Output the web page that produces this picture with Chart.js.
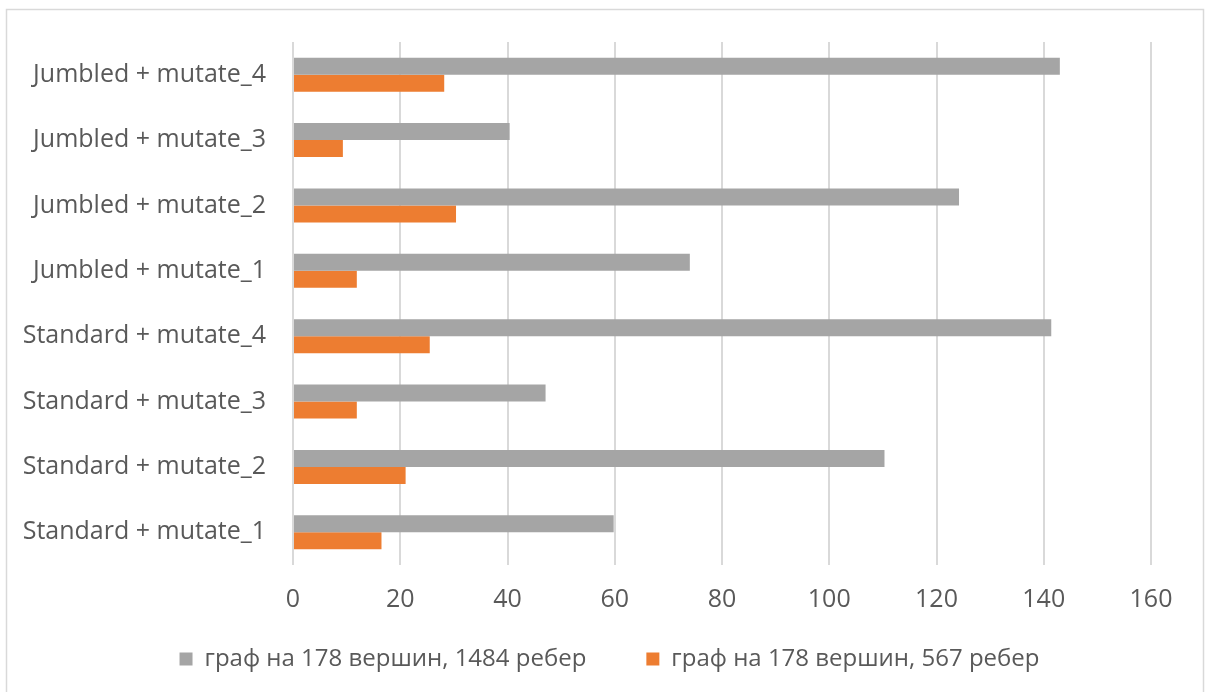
<!DOCTYPE html>
<html>
<head>
<meta charset="utf-8">
<script src="https://cdn.jsdelivr.net/npm/chart.js@4/dist/chart.umd.min.js"></script>
<style>
  html, body { margin: 0; padding: 0; background: #ffffff; }
  #wrap { width: 1205px; height: 692px; position: relative; }
</style>
</head>
<body>
<div id="wrap"><canvas id="chart"></canvas></div>
<script>
// Categories, listed top to bottom as they appear on the axis
const categories = [
  'Jumbled + mutate_4',
  'Jumbled + mutate_3',
  'Jumbled + mutate_2',
  'Jumbled + mutate_1',
  'Standard + mutate_4',
  'Standard + mutate_3',
  'Standard + mutate_2',
  'Standard + mutate_1'
];

// Series values (same order as categories)
const graph1484 = [143.0, 40.4, 124.2, 74.0, 141.4, 47.1, 110.3, 59.8];
const graph567  = [28.2, 9.3, 30.4, 11.9, 25.5, 11.9, 21.0, 16.5];

const seriesNames = [
  'граф на 178 вершин, 1484 ребер',
  'граф на 178 вершин, 567 ребер'
];

// Value axis range and step
const xMin = 0;
const xMax = 160;
const xStep = 20;

const FONT = "'Open Sans', 'Liberation Sans', sans-serif";
const TEXT = '#595959';
const GRID = '#d9d9d9';

// Outer frame around the chart
const framePlugin = {
  id: 'frame',
  beforeDraw(chart) {
    const ctx = chart.ctx;
    ctx.save();
    ctx.fillStyle = '#ffffff';
    ctx.fillRect(0, 0, chart.width, chart.height);
    ctx.strokeStyle = '#d9d9d9';
    ctx.lineWidth = 1.5;
    ctx.strokeRect(6.5, 9.5, chart.width - 8, chart.height + 10);
    ctx.restore();
  }
};

// Moves the legend row up under the axis labels and centres it in the frame
const legendPlacePlugin = {
  id: 'legendPlace',
  afterLayout(chart) {
    const lg = chart.legend;
    if (!lg) return;
    const up = 23, right = 34;
    lg.top -= up; lg.bottom -= up;
    lg.left += right; lg.right += right;
  }
};

new Chart(document.getElementById('chart'), {
  type: 'bar',
  data: {
    labels: categories,
    datasets: [
      {
        label: seriesNames[0],
        data: graph1484,
        backgroundColor: '#a5a5a5',
        borderWidth: 0
      },
      {
        label: seriesNames[1],
        data: graph567,
        backgroundColor: '#ed7d31',
        borderWidth: 0
      }
    ]
  },
  options: {
    indexAxis: 'y',
    responsive: true,
    maintainAspectRatio: false,
    animation: false,
    categoryPercentage: 0.52,
    barPercentage: 1.0,
    layout: {
      padding: { left: 0, right: 54, top: 42, bottom: -12 }
    },
    scales: {
      x: {
        min: xMin,
        max: xMax,
        ticks: {
          stepSize: xStep,
          color: TEXT,
          font: { family: FONT, size: 25 },
          padding: 20
        },
        grid: {
          color: GRID,
          lineWidth: 2,
          drawTicks: false
        },
        border: { display: false },
        afterFit(scale) { scale.height = 45; }
      },
      y: {
        ticks: {
          color: TEXT,
          font: { family: FONT, size: 25 },
          padding: 27
        },
        grid: { display: false, drawTicks: false },
        border: { display: false },
        afterFit(scale) { scale.width = 293; }
      }
    },
    plugins: {
      legend: {
        position: 'bottom',
        labels: {
          color: TEXT,
          font: { family: FONT, size: 24 },
          boxWidth: 13,
          boxHeight: 13,
          padding: 60
        }
      },
      tooltip: { enabled: false }
    }
  },
  plugins: [framePlugin, legendPlacePlugin]
});
</script>
</body>
</html>
